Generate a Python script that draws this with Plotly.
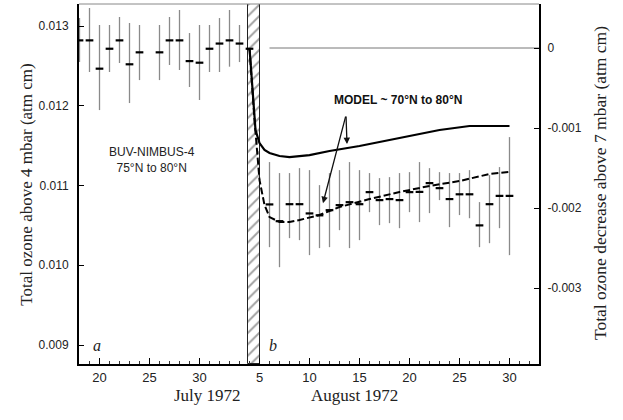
import plotly.graph_objects as go

# Day numbering: July d = d, August d = 31 + day
buv_day = [18, 19, 20, 21, 22, 23, 24, 26, 27, 28, 29, 30, 31, 32, 33, 34, 35,
           37, 38, 39, 40, 41, 42, 43, 44, 45, 46, 47, 48, 49, 50, 51, 52, 53,
           54, 55, 56, 57, 58, 59, 60, 61]
buv_val = [0.01282, 0.01282, 0.012465, 0.012715, 0.01282, 0.01252, 0.01267, 0.01267,
           0.01282, 0.01282, 0.01256, 0.01254, 0.012715, 0.01278, 0.01282, 0.01278, 0.012715,
           0.010763, 0.010553, 0.010766, 0.010766, 0.01065, 0.010626, 0.010691, 0.010754,
           0.010791, 0.010766, 0.010917, 0.010817, 0.01083, 0.010817, 0.010917, 0.01092,
           0.01103, 0.010967, 0.01083, 0.01089, 0.01089, 0.0105, 0.010766, 0.01087, 0.01087]
buv_hi = [0.0131, 0.013226, 0.013013, 0.013013, 0.013113, 0.013038, 0.013013, 0.013013,
          0.013113, 0.013201, 0.012912, 0.013013, 0.013013, 0.0131, 0.013201, 0.013013, 0.012715,
          0.011294, 0.011156, 0.011156, 0.011218, 0.011193, 0.011005, 0.011156, 0.011193,
          0.011294, 0.011193, 0.011156, 0.011093, 0.011105, 0.011156, 0.011168, 0.011294,
          0.011218, 0.011168, 0.011156, 0.011156, 0.011193, 0.010792, 0.01113, 0.011231, 0.011607]
buv_lo = [0.01255, 0.012423, 0.011946, 0.012423, 0.012536, 0.012034, 0.012322, 0.012322,
          0.012511, 0.012448, 0.012235, 0.012072, 0.012423, 0.012423, 0.01249, 0.012548, 0.012715,
          0.010227, 0.009976, 0.01034, 0.010315, 0.010127, 0.010215, 0.010227, 0.01044,
          0.010215, 0.010315, 0.010666, 0.010503, 0.010528, 0.010465, 0.010666, 0.010541,
          0.010654, 0.010817, 0.010478, 0.010629, 0.01059, 0.010227, 0.010277, 0.010465, 0.010127]

model_solid_day = [35, 35.6, 36, 36.5, 37, 38, 39, 41, 43, 46, 50, 54, 57, 61]
model_solid = [0, -0.001025, -0.001188, -0.001275, -0.001313, -0.00135, -0.001363,
               -0.001338, -0.001288, -0.001225, -0.001125, -0.001025, -0.000975, -0.000975]
model_dash_day = [35, 35.5, 36, 36.5, 37, 38, 39, 40, 42, 44, 47, 50, 53, 56, 59, 61]
model_dash = [0, -0.0009, -0.00165, -0.001963, -0.002113, -0.002175, -0.002175, -0.00215,
              -0.002088, -0.001988, -0.001888, -0.0018, -0.001725, -0.001663, -0.001575, -0.00155]

x_tickvals = [20, 25, 30, 36, 41, 46, 51, 56, 61]
x_ticktext = ["20", "25", "30", "5", "10", "15", "20", "25", "30"]
y_tickvals = [0.009, 0.010, 0.011, 0.012, 0.013]
y2_tickvals = [0, -0.001, -0.002, -0.003]
y2_ticktext = ["0", "-0.001", "-0.002", "-0.003"]

hatch_start, hatch_end = 34.8, 36.0
x_range = [17.95, 63.95]
y_range = [0.008762, 0.013276]
y2_range = [-0.00395, 0.00055]

fig = go.Figure()

# hatched period
fig.add_trace(go.Bar(
    x=[(hatch_start + hatch_end) / 2], y=[y_range[1] - y_range[0]], base=[y_range[0]],
    width=[hatch_end - hatch_start],
    marker=dict(color="white", line=dict(color="#222", width=1),
                pattern=dict(shape="/", fgcolor="#444", size=8, solidity=0.25)),
    showlegend=False, hoverinfo="skip"))

# zero reference line (right axis)
fig.add_trace(go.Scatter(x=[37, 64], y=[0, 0], yaxis="y2", mode="lines",
                         line=dict(color="#777", width=1), showlegend=False))

# BUV observations
fig.add_trace(go.Scatter(
    x=buv_day, y=buv_val, mode="markers",
    marker=dict(symbol="line-ew", size=5.5, line=dict(color="black", width=2.2)),
    error_y=dict(type="data", symmetric=False,
                 array=[h - v for h, v in zip(buv_hi, buv_val)],
                 arrayminus=[v - l for v, l in zip(buv_val, buv_lo)],
                 color="#8a8a8a", thickness=1.3, width=0),
    showlegend=False))

# Model curves
fig.add_trace(go.Scatter(x=model_solid_day, y=model_solid, yaxis="y2", mode="lines",
                         line=dict(color="black", width=2.2), showlegend=False))
fig.add_trace(go.Scatter(x=model_dash_day, y=model_dash, yaxis="y2", mode="lines",
                         line=dict(color="black", width=2, dash="7px,3px"), showlegend=False))

fig.update_layout(
    width=623, height=420,
    margin=dict(l=79, r=84, t=4, b=56),
    paper_bgcolor="white", plot_bgcolor="white",
    bargap=0,
    xaxis=dict(range=x_range, tickvals=x_tickvals, ticktext=x_ticktext,
               ticks="inside", ticklen=6, tickwidth=1, tickcolor="black",
               minor=dict(dtick=1, tick0=18, ticks="inside", ticklen=3, tickcolor="#333"),
               showgrid=False, zeroline=False, showline=True, linecolor="black", linewidth=2,
               tickfont=dict(family="Liberation Sans", size=13, color="#222")),
    yaxis=dict(range=y_range, tickvals=y_tickvals, tickformat=".3f",
               ticks="inside", ticklen=5, tickcolor="black",
               showgrid=False, zeroline=False, showline=True, linecolor="black", linewidth=2,
               ticklabelstandoff=6,
               tickfont=dict(family="Liberation Sans", size=12, color="#222")),
    yaxis2=dict(range=y2_range, overlaying="y", side="right", tickvals=y2_tickvals,
                ticktext=y2_ticktext, ticks="inside", ticklen=5, tickcolor="black",
                showgrid=False, zeroline=False, showline=True, linecolor="black", linewidth=2,
                ticklabelstandoff=4,
                tickfont=dict(family="Liberation Sans", size=12, color="#222")),
    shapes=[dict(type="line", xref="paper", yref="paper", x0=0, x1=1, y0=1, y1=1,
                 line=dict(color="#888", width=1))],
)

serif = "Liberation Serif"
ann = [
    dict(text="Total ozone above 4 mbar (atm cm)", xref="paper", yref="paper",
         x=-0.139, y=0.497, textangle=-90, showarrow=False,
         font=dict(family=serif, size=17, color="#222")),
    dict(text="Total ozone decrease above 7 mbar (atm cm)", xref="paper", yref="paper",
         x=1.159, y=0.503, textangle=-90, showarrow=False,
         font=dict(family=serif, size=17.5, color="#222")),
    dict(text="July 1972", xref="paper", yref="paper", x=0.202, y=-0.119,
         showarrow=False, font=dict(family=serif, size=17, color="#222")),
    dict(text="August 1972", xref="paper", yref="paper", x=0.698, y=-0.119,
         showarrow=False, font=dict(family=serif, size=17, color="#222")),
    dict(text="BUV-NIMBUS-4<br>75°N to 80°N", x=25.25, y=0.011325, showarrow=False,
         font=dict(family="Liberation Sans", size=12, color="#222")),
    dict(text="<b>MODEL ~ 70°N to 80°N</b>", x=49.85, y=0.012072, showarrow=False,
         font=dict(family="Liberation Sans", size=12, color="#111")),
    dict(text="<i>a</i>", x=19.75, y=0.009, showarrow=False,
         font=dict(family=serif, size=16, color="#222")),
    dict(text="<i>b</i>", x=37.35, y=0.009, showarrow=False,
         font=dict(family=serif, size=16, color="#222")),
    dict(text="", x=44.75, y=0.011519, ax=44.65, ay=0.011883, axref="x", ayref="y",
         showarrow=True, arrowhead=2, arrowsize=1, arrowwidth=1.3, arrowcolor="#111"),
    dict(text="", x=42.35, y=0.010779, ax=44.65, ay=0.011883, axref="x", ayref="y",
         showarrow=True, arrowhead=2, arrowsize=1, arrowwidth=1.3, arrowcolor="#111"),
]
fig.update_layout(annotations=ann)

fig.write_html("out.html")
